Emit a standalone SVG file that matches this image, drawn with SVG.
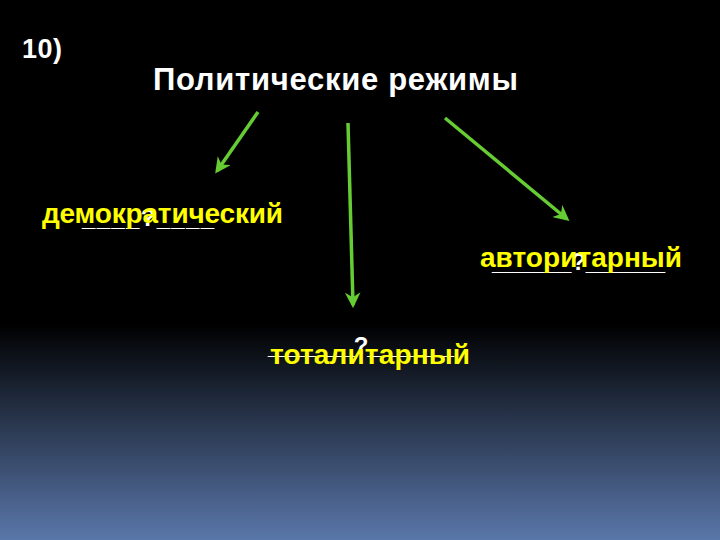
<svg xmlns="http://www.w3.org/2000/svg" width="720" height="540" viewBox="0 0 720 540">
<defs>
<linearGradient id="bg" x1="0" y1="0" x2="0" y2="1">
<stop offset="0" stop-color="#000000"/>
<stop offset="0.6" stop-color="#000000"/>
<stop offset="1" stop-color="#5a77aa"/>
</linearGradient>
<marker id="ah" viewBox="0 0 10 10" refX="8" refY="5" markerWidth="4.5" markerHeight="4.5" orient="auto" markerUnits="strokeWidth">
<path d="M0,0 L10,5 L0,10 L3,5 z" fill="#66cc33"/>
</marker>
<style>
.t{font-family:"Liberation Sans",Arial,sans-serif;font-weight:bold;}
.w{fill:#ffffff;}
.y{fill:#ffff00;}
.c{stroke:#66cc33;stroke-width:3.5;fill:none;marker-end:url(#ah);}
</style>
</defs>
<rect x="0" y="0" width="720" height="540" fill="url(#bg)"/>
<g id="num"><text class="t w" x="22" y="58" font-size="27" textLength="40">10)</text></g>
<g id="title"><text class="t w" x="153" y="90" font-size="31" textLength="365">Политические режимы</text></g>
<g id="connectors">
<line class="c" x1="258" y1="112" x2="217" y2="171"/>
<line class="c" x1="348" y1="123" x2="353" y2="305"/>
<line class="c" x1="445" y1="118" x2="567" y2="219"/>
</g>
<g id="democratic">
<text class="t w" x="82" y="226" font-size="24" textLength="132">____?____</text>
<text class="t y" x="42" y="223" font-size="28" textLength="241">демократический</text>
</g>
<g id="authoritarian">
<text class="t w" x="492" y="270" font-size="24" textLength="173">______?______</text>
<text class="t y" x="480" y="267" font-size="28" textLength="202">авторитарный</text>
</g>
<g id="totalitarian">
<text class="t w" x="268" y="354" font-size="24" textLength="186">_______?_______</text>
<text class="t y" x="270" y="364" font-size="28" textLength="200">тоталитарный</text>
</g>
</svg>
